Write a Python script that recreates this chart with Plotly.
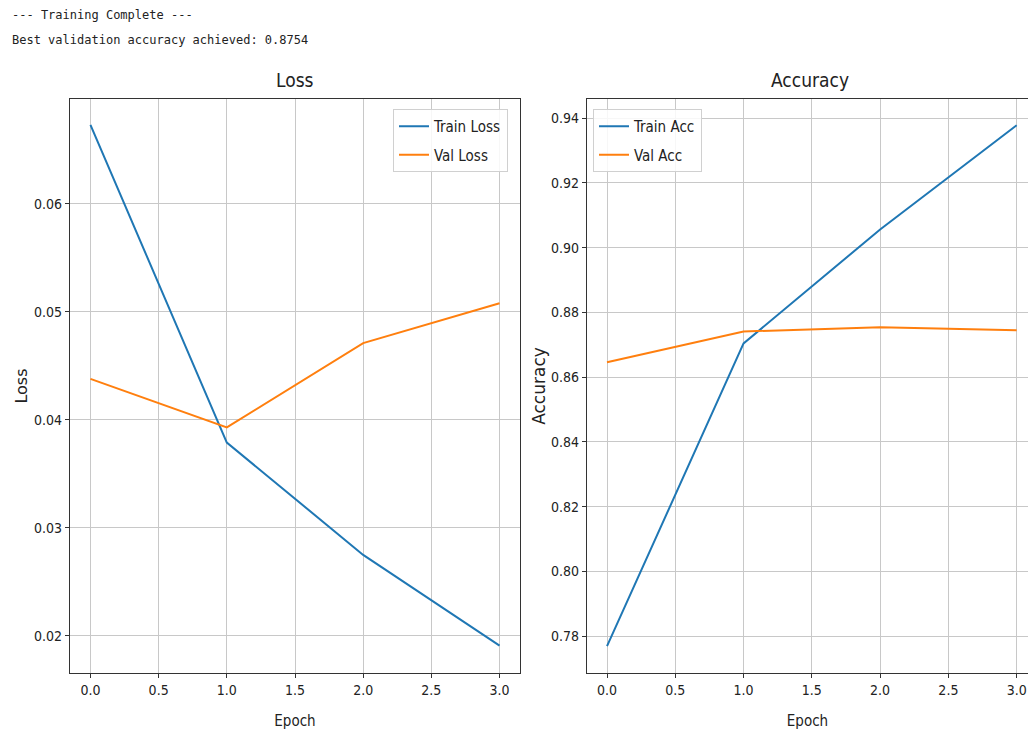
import plotly.graph_objects as go

epochs = [0, 1, 2, 3]
train_loss = [0.0673, 0.0379, 0.0275, 0.0191]
val_loss = [0.0438, 0.0393, 0.0471, 0.0508]
train_acc = [0.7769, 0.8704, 0.9056, 0.9378]
val_acc = [0.8646, 0.8741, 0.8754, 0.8745]

header_lines = ["--- Training Complete ---", "Best validation accuracy achieved: 0.8754"]

BLUE = "#1f77b4"
ORANGE = "#ff7f0e"
COND = "DejaVu Sans Condensed, Liberation Sans Narrow, DejaVu Sans"
W, H = 1028, 731


def px(x):
    return x / W


def py(y):
    return 1 - y / H


fig = go.Figure()
fig.add_trace(go.Scatter(x=epochs, y=train_loss, mode="lines", name="Train Loss", legendgroup="a",
                         line=dict(color=BLUE, width=2), xaxis="x", yaxis="y", legend="legend"))
fig.add_trace(go.Scatter(x=epochs, y=val_loss, mode="lines", name="Val Loss", legendgroup="b",
                         line=dict(color=ORANGE, width=2), xaxis="x", yaxis="y", legend="legend"))
fig.add_trace(go.Scatter(x=epochs, y=train_acc, mode="lines", name="Train Acc", legendgroup="c",
                         line=dict(color=BLUE, width=2), xaxis="x2", yaxis="y2", legend="legend2"))
fig.add_trace(go.Scatter(x=epochs, y=val_acc, mode="lines", name="Val Acc", legendgroup="d",
                         line=dict(color=ORANGE, width=2), xaxis="x2", yaxis="y2", legend="legend2"))

ydom = [py(673), py(99)]
common = dict(showgrid=True, gridcolor="#c8c8c8", gridwidth=1, zeroline=False,
              showline=True, linecolor="#333", linewidth=1.2,
              ticks="outside", ticklen=4, tickcolor="#333",
              tickfont=dict(family=COND, size=14, color="#222"))
xt = dict(tickvals=[0, 0.5, 1, 1.5, 2, 2.5, 3], ticktext=["0.0", "0.5", "1.0", "1.5", "2.0", "2.5", "3.0"])
legend_common = dict(bgcolor="rgba(255,255,255,0.85)", bordercolor="#d0d0d0", borderwidth=1,
                     tracegroupgap=6, font=dict(family=COND, size=15, color="#222"))

fig.update_layout(
    width=W, height=H, margin=dict(l=0, r=0, t=0, b=0),
    paper_bgcolor="white", plot_bgcolor="white", showlegend=True,
    xaxis=dict(domain=[px(70), px(520)], range=[-0.15, 3.15], anchor="y", mirror=True,
               title=dict(text="Epoch", font=dict(family=COND, size=15, color="#222"), standoff=18),
               **xt, **common),
    yaxis=dict(domain=ydom, range=[0.01657, 0.0697], anchor="x",
               tickvals=[0.02, 0.03, 0.04, 0.05, 0.06], ticktext=["0.02", "0.03", "0.04", "0.05", "0.06"],
               mirror=True,
               title=dict(text="Loss", font=dict(family="DejaVu Sans", size=16, color="#222"), standoff=2),
               **common),
    xaxis2=dict(domain=[px(587), 1.0], range=[-0.1465, 3.083], anchor="y2", mirror=True,
                title=dict(text="Epoch", font=dict(family=COND, size=15, color="#222"), standoff=18),
                **xt, **common),
    yaxis2=dict(domain=ydom, range=[0.7686, 0.9459], anchor="x2",
                tickvals=[0.78, 0.80, 0.82, 0.84, 0.86, 0.88, 0.90, 0.92, 0.94],
                ticktext=["0.78", "0.80", "0.82", "0.84", "0.86", "0.88", "0.90", "0.92", "0.94"],
                title=dict(text="Accuracy", font=dict(family="DejaVu Sans", size=17, color="#222"), standoff=1),
                **common),
    legend=dict(x=px(508), y=py(109), xanchor="right", yanchor="top", **legend_common),
    legend2=dict(x=px(593), y=py(109), xanchor="left", yanchor="top", **legend_common),
    annotations=[
        dict(text="Loss", x=px(295), y=py(80), xref="paper", yref="paper", showarrow=False,
             xanchor="center", yanchor="middle", font=dict(family=COND, size=19, color="#222")),
        dict(text="Accuracy", x=px(810), y=py(80), xref="paper", yref="paper", showarrow=False,
             xanchor="center", yanchor="middle", font=dict(family=COND, size=19, color="#222")),
        dict(text=header_lines[0], x=px(10), y=py(15), xref="paper", yref="paper", showarrow=False,
             xanchor="left", yanchor="middle", font=dict(family="DejaVu Sans Mono", size=12, color="#222")),
        dict(text=header_lines[1], x=px(10), y=py(40), xref="paper", yref="paper", showarrow=False,
             xanchor="left", yanchor="middle", font=dict(family="DejaVu Sans Mono", size=12, color="#222")),
    ],
)

fig.write_html("out.html", config={"displayModeBar": False},
               post_script="document.body.style.margin='0';document.body.style.overflow='hidden';")
